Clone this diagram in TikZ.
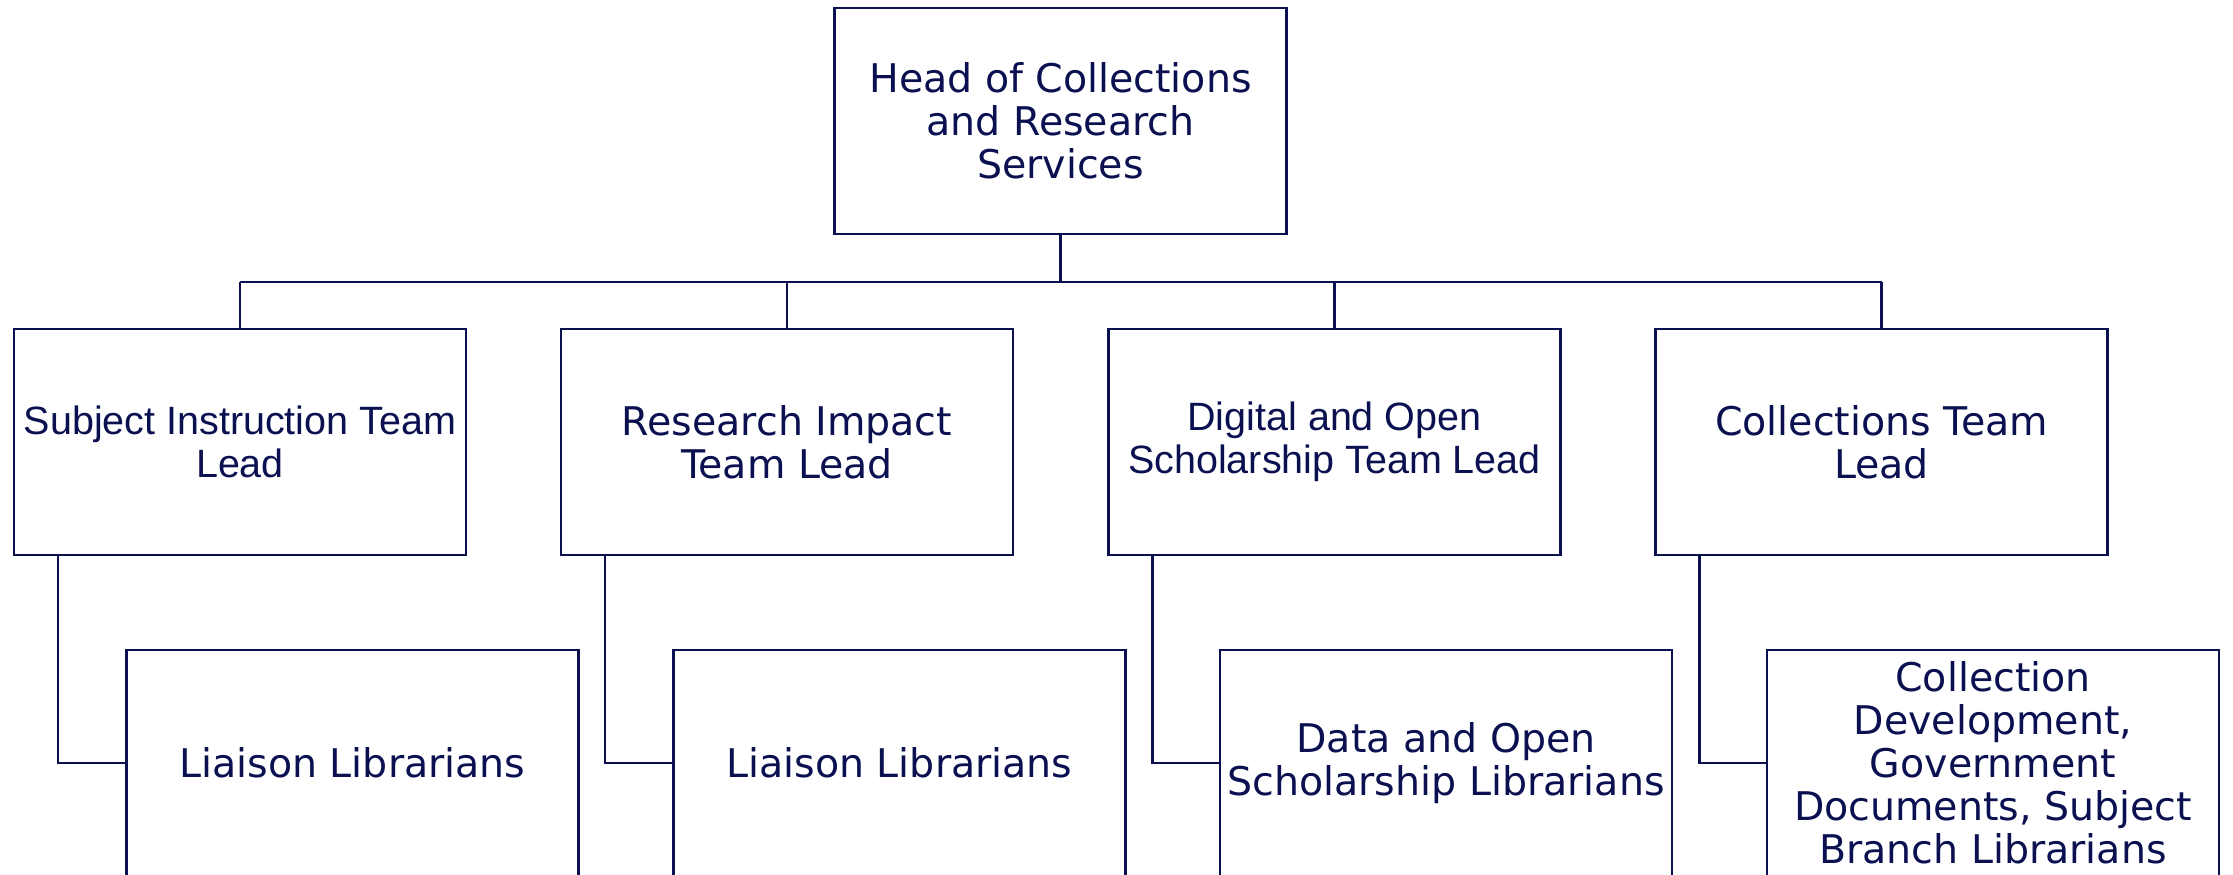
\documentclass[tikz,border=0pt]{standalone}
\usepackage{fontspec}
\setmainfont{DejaVu Sans}
\newfontfamily\arialfont{Liberation Sans}
\definecolor{navy}{RGB}{10,16,80}
\begin{document}
\begin{tikzpicture}[x=1pt,y=-1pt,
  box/.style={draw=navy,line width=2.5pt,rectangle,minimum width=452pt,minimum height=226pt,inner sep=0pt,align=center,text=navy,font=\fontsize{39.5}{43}\selectfont},
  abox/.style={box,font=\arialfont\fontsize{39.5}{43}\selectfont},
  link/.style={draw=navy,line width=2.5pt}]
\useasboundingbox (0,0) rectangle (2233,875);
\fill[white] (0,0) rectangle (2233,875);
\node[box] (head) at (1060.5,121) {Head of Collections\\and Research\\Services};
\node[abox] (b1) at (240,442) {Subject Instruction Team\\Lead};
\node[box] (b2) at (787,442) {Research Impact\\Team Lead};
\node[abox] (b3) at (1334.5,442) {Digital and Open\\Scholarship Team Lead};
\node[box] (b4) at (1881.5,442) {Collections Team\\Lead};
\node[box] (c1) at (352.5,763) {Liaison Librarians};
\node[box] (c2) at (899.5,763) {Liaison Librarians};
\node[box] (c3) at (1446,763) {Data and Open\\Scholarship Librarians};
\node[box] (c4) at (1993,763) {Collection\\Development,\\Government\\Documents, Subject\\Branch Librarians};
\coordinate (bus) at (1060.5,282);
\draw[link] (head.south) -- (bus);
\draw[link] (b1.north |- bus) -- (b4.north |- bus);
\foreach \b in {b1,b2,b3,b4} \draw[link] (\b.north) -- (\b.north |- bus);
\foreach \b/\c in {b1/c1,b2/c2,b3/c3,b4/c4} \draw[link] ([xshift=45pt]\b.south west) |- (\c.west);
\end{tikzpicture}
\end{document}
